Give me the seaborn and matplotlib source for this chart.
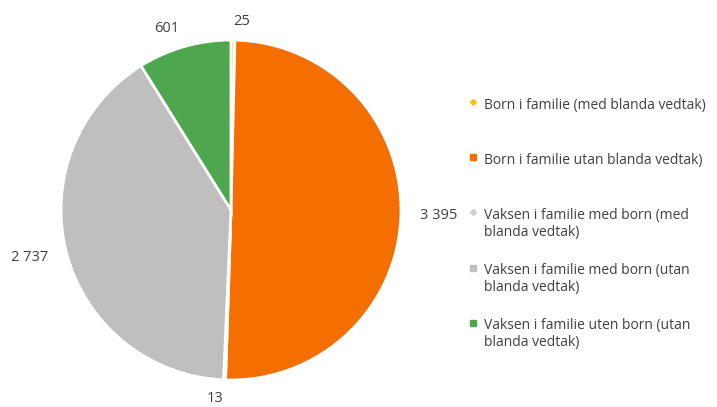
import matplotlib
matplotlib.use("Agg")
import matplotlib.pyplot as plt
from matplotlib.lines import Line2D
from matplotlib.legend_handler import HandlerLine2D
import seaborn as sns

kategoriar = [
    "Born i familie (med blanda vedtak)",
    "Born i familie utan blanda vedtak)",
    "Vaksen i familie med born (med\nblanda vedtak)",
    "Vaksen i familie med born (utan\nblanda vedtak)",
    "Vaksen i familie uten born (utan\nblanda vedtak)",
]
verdiar = [25, 3395, 13, 2737, 601]
fargar = ["#FFC000", "#F46F00", "#D0D0D0", "#BFBFBF", "#4EA64E"]

sns.set_theme(style="white")
plt.rcParams["font.family"] = ["Open Sans", "DejaVu Sans"]


class FyrsteLinje(HandlerLine2D):
    # flytt markøren opp til første tekstlinja
    def create_artists(self, *args, **kwargs):
        arts = super().create_artists(*args, **kwargs)
        for a in arts:
            a.set_ydata([y + 8.7 for y in a.get_ydata()])
        return arts


fig = plt.figure(figsize=(7.17, 4.07), dpi=100)
ax = fig.add_axes([(231 - 170) / 717, (407 - 210 - 170) / 407, 340 / 717, 340 / 407])

etikettar = [f"{v:,}".replace(",", " ") for v in verdiar]
wedges, tekstar = ax.pie(verdiar, colors=fargar, startangle=90, counterclock=False,
                         labels=etikettar, labeldistance=1.11,
                         wedgeprops=dict(edgecolor="white", linewidth=2),
                         textprops=dict(fontsize=10.5, color="#404040"))
ax.set_xlim(-1, 1)
ax.set_ylim(-1, 1)
ax.set_aspect("equal")

handtak = []
for i, f in enumerate(fargar):
    liten = verdiar[i] < 100
    handtak.append(Line2D([], [], linestyle="none", marker="D" if liten else "s",
                          markersize=3 if liten else 5, color=f))
leg_tekst = [k if "\n" in k else k + "\n " for k in kategoriar]
leg = fig.legend(handtak, leg_tekst, loc="upper left", bbox_to_anchor=(456 / 717, 1 - 85 / 407),
                 frameon=False, fontsize=10, labelspacing=1.65, handlelength=0.6,
                 handletextpad=0.5, labelcolor="#404040",
                 handler_map={Line2D: FyrsteLinje()})

fig.savefig("out.png", dpi=100)
